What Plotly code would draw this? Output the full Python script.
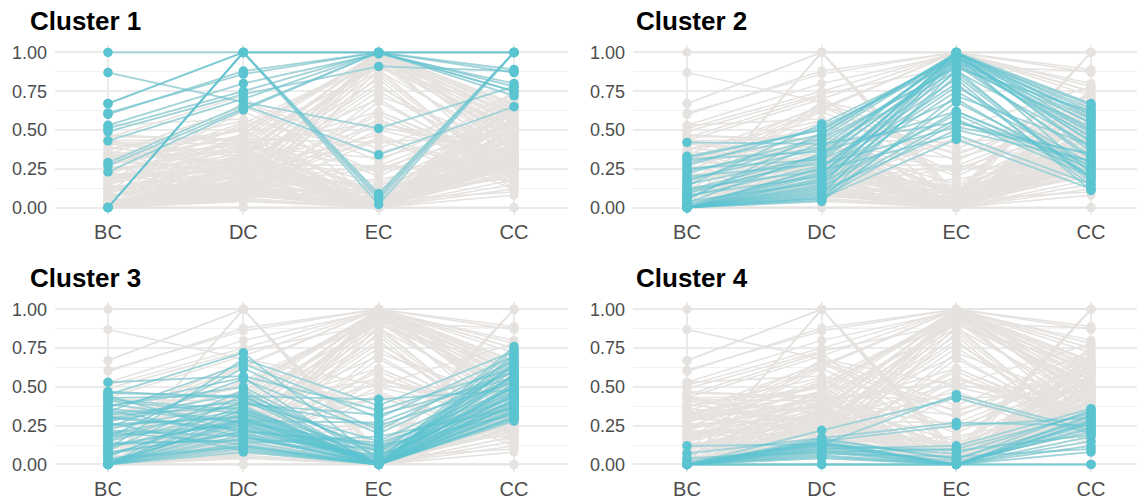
import plotly.graph_objects as go

measures = ["BC", "DC", "EC", "CC"]
cluster_names = ["Cluster 1", "Cluster 2", "Cluster 3", "Cluster 4"]
y_ticks = [0.0, 0.25, 0.5, 0.75, 1.0]
y_tick_text = ["0.00", "0.25", "0.50", "0.75", "1.00"]

# ---- Cluster 1 ----
c1_bc = [1.00, 0.87, 0.67, 0.67, 0.61, 0.60, 0.53, 0.51, 0.49, 0.43, 0.29, 0.27, 0.23, 0.00, 0.00, 0.00, 0.00]
c1_dc = [1.00, 0.68, 1.00, 1.00, 0.86, 0.88, 0.80, 0.75, 0.73, 0.70, 0.66, 0.64, 0.63, 1.00, 1.00, 1.00, 1.00]
c1_ec = [1.00, 0.51, 0.05, 1.00, 1.00, 1.00, 0.99, 1.00, 0.91, 1.00, 0.34, 1.00, 1.00, 0.09, 0.07, 0.02, 1.00]
c1_cc = [1.00, 0.78, 1.00, 1.00, 0.89, 0.87, 0.80, 0.78, 0.88, 0.75, 0.65, 0.72, 0.75, 1.00, 1.00, 1.00, 1.00]

# ---- Cluster 2 ----
c2_bc = [0.42, 0.33, 0.31, 0.29, 0.27, 0.25, 0.22, 0.20, 0.18, 0.15, 0.12, 0.10, 0.08, 0.06, 0.04,
         0.02, 0.00, 0.00, 0.00, 0.00, 0.00, 0.00, 0.01, 0.00, 0.00, 0.03, 0.00, 0.05, 0.00, 0.00,
         0.14, 0.00, 0.09, 0.00, 0.00, 0.17, 0.00, 0.07, 0.00, 0.24, 0.00, 0.11, 0.00, 0.32, 0.00]
c2_dc = [0.41, 0.50, 0.36, 0.47, 0.52, 0.31, 0.45, 0.28, 0.38, 0.33, 0.24, 0.30, 0.20, 0.42, 0.16,
         0.22, 0.10, 0.08, 0.06, 0.12, 0.14, 0.18, 0.25, 0.05, 0.09, 0.35, 0.26, 0.48, 0.07, 0.21,
         0.54, 0.11, 0.32, 0.15, 0.04, 0.44, 0.19, 0.27, 0.13, 0.39, 0.23, 0.34, 0.06, 0.50, 0.17]
c2_ec = [0.55, 0.98, 0.62, 1.00, 0.94, 0.70, 0.99, 0.52, 0.88, 1.00, 0.47, 0.96, 0.78, 0.91, 0.60,
         0.99, 0.85, 0.97, 0.44, 0.92, 1.00, 0.75, 0.95, 0.89, 0.57, 1.00, 0.83, 0.99, 0.68, 1.00,
         0.96, 0.50, 0.93, 0.98, 0.72, 0.90, 1.00, 0.87, 0.62, 0.97, 0.80, 1.00, 0.55, 0.99, 0.94]
c2_cc = [0.30, 0.45, 0.25, 0.62, 0.55, 0.20, 0.66, 0.35, 0.40, 0.58, 0.15, 0.48, 0.28, 0.52, 0.22,
         0.38, 0.18, 0.60, 0.12, 0.33, 0.67, 0.26, 0.43, 0.16, 0.20, 0.50, 0.11, 0.64, 0.24, 0.36,
         0.57, 0.30, 0.46, 0.22, 0.40, 0.62, 0.54, 0.19, 0.27, 0.49, 0.14, 0.42, 0.34, 0.60, 0.31]

# ---- Cluster 3 ----
c3_bc = [0.53, 0.47, 0.45, 0.43, 0.41, 0.38, 0.36, 0.34, 0.32, 0.30, 0.28, 0.26, 0.24, 0.22, 0.20,
         0.18, 0.16, 0.14, 0.12, 0.10, 0.08, 0.06, 0.04, 0.02, 0.00, 0.00, 0.00, 0.00, 0.00, 0.00,
         0.00, 0.00, 0.00, 0.00, 0.00, 0.01, 0.03, 0.05, 0.07, 0.09, 0.11, 0.13, 0.15, 0.17, 0.19,
         0.21, 0.23, 0.25, 0.27, 0.29, 0.31, 0.33, 0.35, 0.37, 0.39, 0.42, 0.44, 0.46, 0.00, 0.00]
c3_dc = [0.57, 0.43, 0.72, 0.44, 0.33, 0.50, 0.27, 0.65, 0.37, 0.22, 0.42, 0.30, 0.55, 0.18, 0.35,
         0.25, 0.40, 0.15, 0.28, 0.68, 0.20, 0.33, 0.12, 0.26, 0.10, 0.22, 0.30, 0.17, 0.36, 0.08,
         0.14, 0.45, 0.24, 0.19, 0.28, 0.32, 0.11, 0.38, 0.21, 0.48, 0.29, 0.16, 0.34, 0.62, 0.26,
         0.13, 0.39, 0.31, 0.09, 0.46, 0.23, 0.40, 0.18, 0.56, 0.27, 0.35, 0.20, 0.44, 0.12, 0.29]
c3_ec = [0.35, 0.10, 0.02, 0.42, 0.00, 0.05, 0.00, 0.30, 0.00, 0.12, 0.00, 0.03, 0.20, 0.00, 0.08,
         0.00, 0.15, 0.00, 0.02, 0.38, 0.00, 0.06, 0.00, 0.01, 0.00, 0.04, 0.00, 0.10, 0.00, 0.00,
         0.18, 0.00, 0.02, 0.00, 0.27, 0.00, 0.00, 0.00, 0.14, 0.00, 0.00, 0.06, 0.00, 0.22, 0.00,
         0.00, 0.32, 0.00, 0.00, 0.08, 0.00, 0.25, 0.00, 0.00, 0.12, 0.00, 0.05, 0.00, 0.00, 0.00]
c3_cc = [0.62, 0.55, 0.76, 0.48, 0.40, 0.58, 0.35, 0.70, 0.45, 0.32, 0.66, 0.52, 0.60, 0.30, 0.47,
         0.42, 0.56, 0.34, 0.50, 0.73, 0.38, 0.54, 0.29, 0.44, 0.33, 0.46, 0.58, 0.40, 0.64, 0.28,
         0.36, 0.70, 0.48, 0.41, 0.60, 0.52, 0.31, 0.68, 0.43, 0.74, 0.50, 0.37, 0.61, 0.67, 0.39,
         0.30, 0.56, 0.46, 0.34, 0.63, 0.42, 0.53, 0.36, 0.71, 0.49, 0.57, 0.44, 0.65, 0.38, 0.51]

# ---- Cluster 4 ----
c4_bc = [0.12, 0.00, 0.07, 0.00, 0.00, 0.04, 0.00, 0.00, 0.02, 0.00, 0.00, 0.00, 0.00,
         0.00, 0.00, 0.00, 0.00, 0.00, 0.00, 0.00, 0.00, 0.00, 0.00, 0.00, 0.00, 0.00]
c4_dc = [0.13, 0.22, 0.17, 0.15, 0.10, 0.08, 0.05, 0.00, 0.13, 0.12, 0.16, 0.09, 0.14,
         0.11, 0.06, 0.15, 0.00, 0.04, 0.07, 0.13, 0.10, 0.17, 0.08, 0.00, 0.12, 0.14]
c4_ec = [0.45, 0.43, 0.27, 0.25, 0.12, 0.10, 0.00, 0.00, 0.07, 0.00, 0.04, 0.00, 0.00,
         0.02, 0.00, 0.00, 0.00, 0.00, 0.05, 0.00, 0.00, 0.03, 0.00, 0.00, 0.09, 0.00]
c4_cc = [0.22, 0.20, 0.25, 0.30, 0.36, 0.33, 0.28, 0.00, 0.34, 0.31, 0.29, 0.27, 0.24,
         0.21, 0.18, 0.15, 0.12, 0.08, 0.10, 0.26, 0.32, 0.35, 0.23, 0.00, 0.19, 0.28]

clusters = [
    (c1_bc, c1_dc, c1_ec, c1_cc),
    (c2_bc, c2_dc, c2_ec, c2_cc),
    (c3_bc, c3_dc, c3_ec, c3_cc),
    (c4_bc, c4_dc, c4_ec, c4_cc),
]

GRAY = "#E5E2DF"
TEAL = "#5BC4D1"
TEAL_LINE = "rgba(91,196,209,0.5)"
GRID = "#EBEBEB"
FONT = "Liberation Sans, Arial, sans-serif"

# all rows for gray background
all_rows = []
for cl in clusters:
    for vals in zip(*cl):
        all_rows.append(vals)

fig = go.Figure()

W, H = 1137, 504
# panel pixel boxes: (left, right, top, bottom, bc_px, cc_px)
panels = [
    (55, 568, 43, 215, 108, 514),
    (633, 1137, 43, 215, 687, 1091),
    (55, 568, 302, 474, 108, 514),
    (633, 1137, 302, 474, 687, 1091),
]
title_pos = [(28, 19), (634, 19), (28, 278), (634, 278)]

for i, (cl, name, pb) in enumerate(zip(clusters, cluster_names, panels)):
    left, right, top, bottom, bcx, ccx = pb
    idx = "" if i == 0 else str(i + 1)
    xa, ya = "x" + idx, "y" + idx

    # gray background lines
    gx, gy = [], []
    for row in all_rows:
        gx += measures + [None]
        gy += list(row) + [None]
    fig.add_trace(go.Scatter(x=gx, y=gy, mode="lines", xaxis=xa, yaxis=ya,
                             line=dict(color=GRAY, width=1.5), hoverinfo="skip",
                             showlegend=False, connectgaps=False))
    # gray points
    px_, py_ = [], []
    for row in all_rows:
        px_ += measures
        py_ += list(row)
    fig.add_trace(go.Scatter(x=px_, y=py_, mode="markers", xaxis=xa, yaxis=ya,
                             marker=dict(color=GRAY, size=9), hoverinfo="skip",
                             showlegend=False))
    # highlighted lines
    rows = list(zip(*cl))
    for row in rows:
        fig.add_trace(go.Scatter(x=measures, y=list(row), mode="lines", xaxis=xa, yaxis=ya,
                                 line=dict(color=TEAL_LINE, width=1.8), hoverinfo="skip",
                                 showlegend=False))
    hx, hy = [], []
    for row in rows:
        hx += measures
        hy += list(row)
    fig.add_trace(go.Scatter(x=hx, y=hy, mode="markers", xaxis=xa, yaxis=ya,
                             marker=dict(color=TEAL, size=9.5), hoverinfo="skip",
                             showlegend=False))

    unit = (ccx - bcx) / 3.0
    xr = [(left - bcx) / unit, (right - bcx) / unit]
    yr = [-0.05, 1.05]
    xdom = [left / W, min(right / W, 1.0)]
    ydom = [(H - bottom) / H, (H - top) / H]

    fig.layout["xaxis" + idx] = dict(
        domain=xdom, anchor=ya, type="category", categoryorder="array",
        categoryarray=measures, range=xr, showgrid=True, gridcolor=GRID, gridwidth=1.6,
        zeroline=False, showline=False, ticks="", ticklabelstandoff=3,
        tickfont=dict(family=FONT, size=20, color="#4D4D4D"), fixedrange=True,
    )
    fig.layout["yaxis" + idx] = dict(
        domain=ydom, anchor=xa, range=yr, tickvals=y_ticks, ticktext=y_tick_text,
        showgrid=True, gridcolor=GRID, gridwidth=1.6, zeroline=False, showline=False,
        ticks="", ticklabelstandoff=7,
        tickfont=dict(family=FONT, size=18, color="#4D4D4D"),
        minor=dict(tickvals=[0.125, 0.375, 0.625, 0.875], showgrid=True,
                   gridcolor="#F2F2F2", gridwidth=0.9),
        fixedrange=True,
    )
    tx, ty = title_pos[i]
    fig.add_annotation(text="<b>" + name + "</b>", xref="paper", yref="paper",
                       x=tx / W, y=(H - ty) / H, xanchor="left", yanchor="middle",
                       showarrow=False, font=dict(family=FONT, size=26, color="#000000"))

fig.update_layout(width=W, height=H, margin=dict(l=0, r=0, t=0, b=0),
                  plot_bgcolor="white", paper_bgcolor="white")

fig.write_html("out.html", config={"displayModeBar": False},
               post_script="document.body.style.margin='0';document.body.style.overflow='hidden';")
